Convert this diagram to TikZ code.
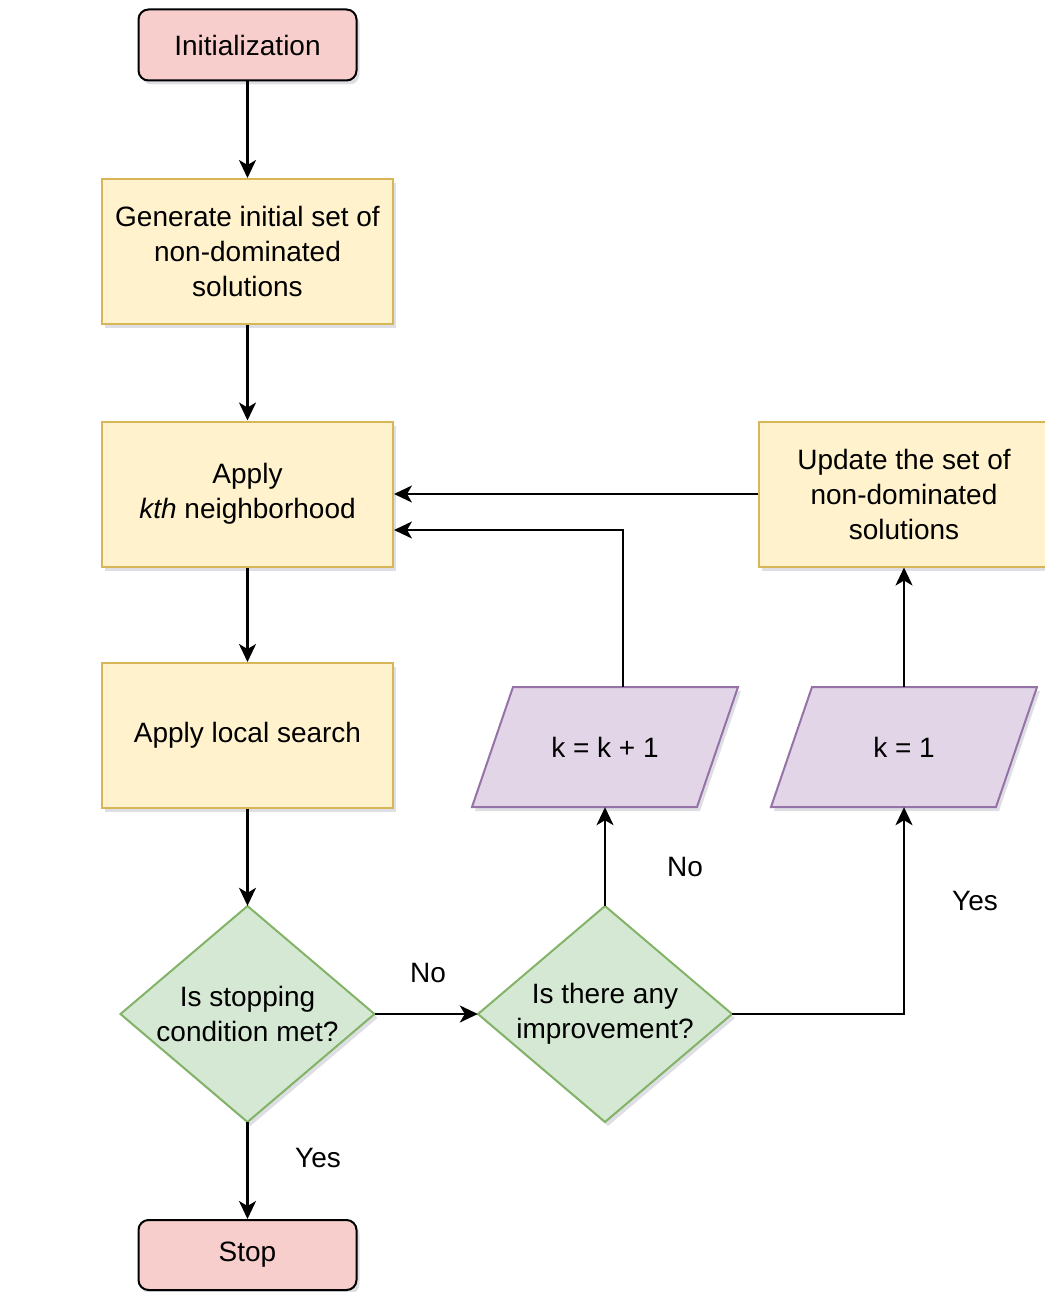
\documentclass[tikz,border=0pt]{standalone}
\usepackage{fontspec}
\setmainfont{Liberation Sans}
\usetikzlibrary{arrows.meta,shadows,calc}
\definecolor{pinkf}{HTML}{F8CECC}
\definecolor{yellf}{HTML}{FFF2CC}
\definecolor{yelld}{HTML}{D6B656}
\definecolor{greenf}{HTML}{D5E8D4}
\definecolor{greend}{HTML}{82B366}
\definecolor{purpf}{HTML}{E1D5E7}
\definecolor{purpd}{HTML}{9673A6}
\definecolor{shadowc}{HTML}{6A6F8A}
\begin{document}
\begin{tikzpicture}[x=1pt,y=-1pt,
  font=\fontsize{28}{35}\selectfont,
  shd/.style={drop shadow={shadow xshift=3pt,shadow yshift=-4pt,opacity=0.22,fill=shadowc}},
  term/.style={rectangle,rounded corners=10pt,draw=black,fill=pinkf,line width=2pt,
    minimum width=218pt,minimum height=71pt,align=center,shd},
  proc/.style={rectangle,draw=yelld,fill=yellf,line width=2pt,
    minimum width=291pt,minimum height=145pt,align=center,shd},
  decpath/.style={draw=greend,fill=greenf,line width=2pt,shd},
  parapath/.style={draw=purpd,fill=purpf,line width=2pt,shd},
  plain/.style={rectangle,inner sep=0pt,align=center},
  edge/.style={line width=2.2pt,-{Stealth[length=18pt,width=17pt,inset=5pt]}},
  lbl/.style={inner sep=0pt}
]
\useasboundingbox (0,0) rectangle (1044,1292);

% terminals and processes
\node[term] (init) at (247.5,45) {Initialization};
\node[proc] (gen) at (247.5,251.5) {Generate initial set of\\non-dominated\\solutions};
\node[proc] (kth) at (247.5,494) {Apply\\\textit{kth} neighborhood};
\node[proc] (ls) at (247.5,735.5) {Apply local search};
\node[proc,minimum width=290pt] (upd) at (904,494) {Update the set of\\non-dominated\\solutions};
\node[term,minimum height=70pt] (stop) at (247.5,1255) {Stop};

% decisions
\path[decpath] (247.5,906) -- (374.5,1014) -- (247.5,1122) -- (120.5,1014) -- cycle;
\node[plain,minimum width=254pt,minimum height=216pt] (d1) at (247.5,1014) {Is stopping\\condition met?};
\path[decpath] (605,906) -- (732,1014) -- (605,1122) -- (478,1014) -- cycle;
\node[plain,minimum width=254pt,minimum height=216pt] (d2) at (605,1014) {Is there any\\improvement?};

% parallelograms
\path[parapath] (513,687) -- (738,687) -- (697,807) -- (472,807) -- cycle;
\node[plain,minimum width=266pt,minimum height=120pt] (kk) at (605,747) {k = k + 1};
\path[parapath] (812,687) -- (1037,687) -- (996,807) -- (771,807) -- cycle;
\node[plain,minimum width=266pt,minimum height=120pt] (k1) at (904,747) {k = 1};

% connectors
\draw[edge] (init) -- (gen);
\draw[edge] (gen) -- (kth);
\draw[edge] (kth) -- (ls);
\draw[edge] (ls) -- (d1);
\draw[edge] (d1) -- (stop);
\draw[edge] (d1.east) -- (d2.west);
\draw[edge] (d2.north) -- (kk.south);
\draw[edge] (d2.east) -| (k1.south);
\draw[edge] (k1.north) -- (upd.south);
\draw[edge] (upd.west) -- (kth.east);
\draw[edge] ($(kk.north)+(18,0)$) |- ($(kth.east)+(0,36)$);

% labels
\node[lbl] (lno1) at (428,973) {No};
\node[lbl] (lno2) at (685,867) {No};
\node[lbl] (lyes1) at (975,901) {Yes};
\node[lbl] (lyes2) at (318,1158) {Yes};
\end{tikzpicture}
\end{document}
